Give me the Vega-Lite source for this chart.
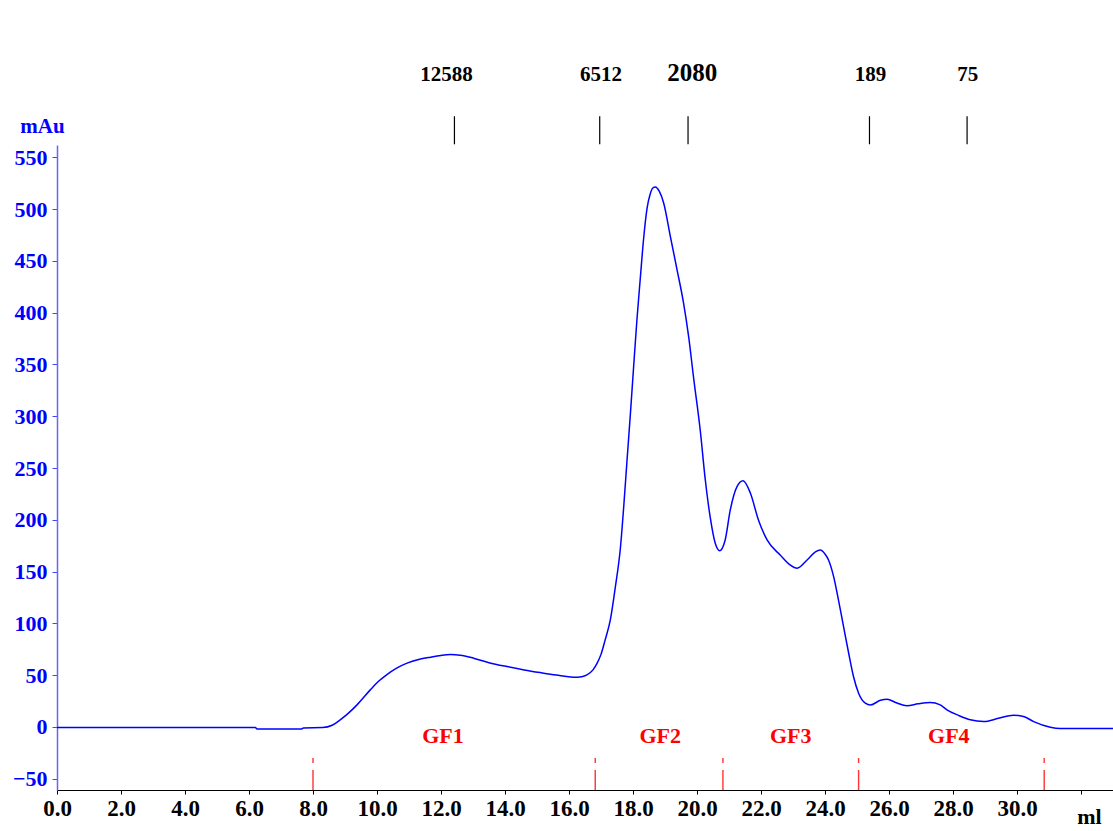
{
  "$schema": "https://vega.github.io/schema/vega-lite/v6.json",
  "width": 1056,
  "height": 645,
  "autosize": {"type": "none"},
  "padding": {"left": 57, "top": 145, "right": 0, "bottom": 41},
  "background": "white",
  "config": {"view": {"stroke": null}, "font": "Liberation Serif"},
  "datasets": {
    "curve": [
      {"ml": 0, "mAu": -0.7}, {"ml": 6.2, "mAu": -0.7}, {"ml": 6.25, "mAu": -2}, {"ml": 7.65, "mAu": -2}, {"ml": 7.7, "mAu": -1}, {"ml": 8.3, "mAu": -0.7},
      {"ml": 8.6, "mAu": 1.5}, {"ml": 8.85, "mAu": 6.8}, {"ml": 9.1, "mAu": 13}, {"ml": 9.375, "mAu": 21.2}, {"ml": 9.79, "mAu": 35.7}, {"ml": 10.05, "mAu": 44},
      {"ml": 10.31, "mAu": 50.5}, {"ml": 10.6, "mAu": 56.5}, {"ml": 10.94, "mAu": 61.5}, {"ml": 11.3, "mAu": 65}, {"ml": 11.67, "mAu": 67.3}, {"ml": 12.0, "mAu": 69},
      {"ml": 12.29, "mAu": 69.8}, {"ml": 12.6, "mAu": 69.2}, {"ml": 13.02, "mAu": 66.3}, {"ml": 13.5, "mAu": 62}, {"ml": 14.06, "mAu": 58.2}, {"ml": 14.6, "mAu": 55},
      {"ml": 15.1, "mAu": 52.4}, {"ml": 15.6, "mAu": 50}, {"ml": 16.14, "mAu": 48}, {"ml": 16.4, "mAu": 48.5}, {"ml": 16.56, "mAu": 50.2}, {"ml": 16.75, "mAu": 55},
      {"ml": 16.88, "mAu": 61.5}, {"ml": 17.0, "mAu": 70}, {"ml": 17.13, "mAu": 84}, {"ml": 17.29, "mAu": 103}, {"ml": 17.45, "mAu": 135.4}, {"ml": 17.61, "mAu": 174},
      {"ml": 17.71, "mAu": 212.6}, {"ml": 17.81, "mAu": 256}, {"ml": 17.92, "mAu": 303}, {"ml": 18.02, "mAu": 348}, {"ml": 18.12, "mAu": 392}, {"ml": 18.23, "mAu": 434},
      {"ml": 18.33, "mAu": 471}, {"ml": 18.44, "mAu": 501}, {"ml": 18.54, "mAu": 515}, {"ml": 18.62, "mAu": 520.5}, {"ml": 18.7, "mAu": 521.5}, {"ml": 18.82, "mAu": 517.4},
      {"ml": 18.96, "mAu": 505.8}, {"ml": 19.17, "mAu": 473.3}, {"ml": 19.38, "mAu": 441}, {"ml": 19.58, "mAu": 409.3}, {"ml": 19.74, "mAu": 376.7}, {"ml": 19.89, "mAu": 338.1},
      {"ml": 20.1, "mAu": 286.7}, {"ml": 20.26, "mAu": 238.4}, {"ml": 20.41, "mAu": 203}, {"ml": 20.57, "mAu": 177.3}, {"ml": 20.71, "mAu": 170.2}, {"ml": 20.88, "mAu": 180.5},
      {"ml": 21.04, "mAu": 209.5}, {"ml": 21.25, "mAu": 232}, {"ml": 21.44, "mAu": 237.7}, {"ml": 21.67, "mAu": 225.6}, {"ml": 21.92, "mAu": 199.8}, {"ml": 22.19, "mAu": 180.5},
      {"ml": 22.6, "mAu": 166}, {"ml": 22.91, "mAu": 156.4}, {"ml": 23.13, "mAu": 153.2}, {"ml": 23.44, "mAu": 161.2}, {"ml": 23.7, "mAu": 169}, {"ml": 23.85, "mAu": 170.8},
      {"ml": 24.0, "mAu": 167}, {"ml": 24.11, "mAu": 161.2}, {"ml": 24.27, "mAu": 145.1}, {"ml": 24.42, "mAu": 122.6}, {"ml": 24.58, "mAu": 96.8}, {"ml": 24.74, "mAu": 71.1},
      {"ml": 24.89, "mAu": 48.6}, {"ml": 25.05, "mAu": 32.5}, {"ml": 25.26, "mAu": 22.9}, {"ml": 25.42, "mAu": 21.2}, {"ml": 25.73, "mAu": 25.6}, {"ml": 25.94, "mAu": 26.7},
      {"ml": 26.23, "mAu": 23.2}, {"ml": 26.56, "mAu": 20.3}, {"ml": 26.91, "mAu": 22.2}, {"ml": 27.29, "mAu": 23.5}, {"ml": 27.6, "mAu": 21.2}, {"ml": 27.81, "mAu": 16.4},
      {"ml": 28.17, "mAu": 11.1}, {"ml": 28.54, "mAu": 6.8}, {"ml": 28.96, "mAu": 5.1}, {"ml": 29.42, "mAu": 8.2}, {"ml": 29.89, "mAu": 11.3}, {"ml": 30.23, "mAu": 9.7},
      {"ml": 30.52, "mAu": 5.1}, {"ml": 31.04, "mAu": -0.3}, {"ml": 31.35, "mAu": -1.5}, {"ml": 33, "mAu": -1.5}
    ],
    "fractionBounds": [{"ml": 8.0}, {"ml": 16.82}, {"ml": 20.81}, {"ml": 25.05}, {"ml": 30.85}],
    "fractions": [
      {"fraction": "GF1", "ml": 12.06}, {"fraction": "GF2", "ml": 18.85},
      {"fraction": "GF3", "ml": 22.93}, {"fraction": "GF4", "ml": 27.87}
    ],
    "markers": [
      {"mw": "12588", "ml": 12.42, "label_ml": 12.17},
      {"mw": "6512", "ml": 16.96, "label_ml": 17.0},
      {"mw": "2080", "ml": 19.72, "label_ml": 19.85},
      {"mw": "189", "ml": 25.39, "label_ml": 25.42},
      {"mw": "75", "ml": 28.44, "label_ml": 28.46}
    ]
  },
  "layer": [
    {
      "data": {"name": "curve"},
      "mark": {"type": "line", "color": "#0000ff", "strokeWidth": 1.5, "interpolate": "monotone"},
      "encoding": {
        "x": {
          "field": "ml", "type": "quantitative",
          "scale": {"domain": [0, 33], "nice": false, "zero": false},
          "axis": {
            "title": "ml", "titleFont": "Liberation Serif", "titleFontSize": 22, "titleFontWeight": "bold", "titleColor": "#000000",
            "titleAnchor": null, "titleAlign": "center", "titleBaseline": "alphabetic", "titleX": 1032, "titleY": 33,
            "values": [0,1,2,3,4,5,6,7,8,9,10,11,12,13,14,15,16,17,18,19,20,21,22,23,24,25,26,27,28,29,30,31,32],
            "labelExpr": "(datum.value % 2 == 0 && datum.value <= 30) ? format(datum.value, '.1f') : ''",
            "labelFont": "Liberation Serif", "labelFontSize": 23, "labelFontWeight": "bold", "labelColor": "#000000",
            "labelPadding": 3, "tickSize": 4, "tickColor": "#000000", "domainColor": "#000000", "domainWidth": 1.2,
            "grid": false, "labelOverlap": false, "labelFlush": false, "labelBound": false
          }
        },
        "y": {
          "field": "mAu", "type": "quantitative",
          "scale": {"domain": [-61, 562], "nice": false, "zero": false},
          "axis": {
            "title": "mAu", "titleFont": "Liberation Serif", "titleFontSize": 21, "titleFontWeight": "bold", "titleColor": "#0000ff",
            "titleAngle": 0, "titleAnchor": null, "titleAlign": "center", "titleBaseline": "alphabetic", "titleX": -15, "titleY": -13,
            "values": [-50,-25,0,25,50,75,100,125,150,175,200,225,250,275,300,325,350,375,400,425,450,475,500,525,550],
            "labelExpr": "datum.value % 50 == 0 ? datum.label : ''",
            "labelFont": "Liberation Serif", "labelFontSize": 22, "labelFontWeight": "bold", "labelColor": "#0000ff",
            "labelPadding": 5,
            "tickSize": {"condition": {"test": "datum.value % 50 == 0", "value": 5}, "value": 3},
            "tickColor": "#4444ff", "domainColor": "#6666ff", "domainWidth": 1.5,
            "grid": false, "labelOverlap": false, "labelFlush": false, "labelBound": false
          }
        }
      }
    },
    {
      "data": {"name": "fractionBounds"},
      "mark": {"type": "rule", "color": "#ff3333", "strokeWidth": 1.4, "strokeDash": [5, 7, 40]},
      "encoding": {
        "x": {"field": "ml", "type": "quantitative"},
        "y": {"datum": -30.2},
        "y2": {"datum": -61}
      }
    },
    {
      "data": {"name": "fractions"},
      "mark": {"type": "text", "color": "#ff0000", "font": "Liberation Serif", "fontWeight": "bold", "fontSize": 22, "align": "center", "baseline": "alphabetic"},
      "encoding": {
        "x": {"field": "ml", "type": "quantitative"},
        "y": {"datum": -15.4},
        "text": {"field": "fraction"}
      }
    },
    {
      "data": {"name": "markers"},
      "mark": {"type": "rule", "color": "#000000", "strokeWidth": 1.2},
      "encoding": {
        "x": {"field": "ml", "type": "quantitative"},
        "y": {"datum": 562.7},
        "y2": {"datum": 589.8}
      }
    },
    {
      "data": {"name": "markers"},
      "mark": {"type": "text", "color": "#000000", "font": "Liberation Serif", "fontWeight": "bold", "align": "center", "baseline": "alphabetic"},
      "encoding": {
        "x": {"field": "label_ml", "type": "quantitative"},
        "y": {"datum": 623.5},
        "text": {"field": "mw"},
        "size": {"condition": {"test": "datum.mw == '2080'", "value": 25}, "value": 21}
      }
    }
  ]
}
